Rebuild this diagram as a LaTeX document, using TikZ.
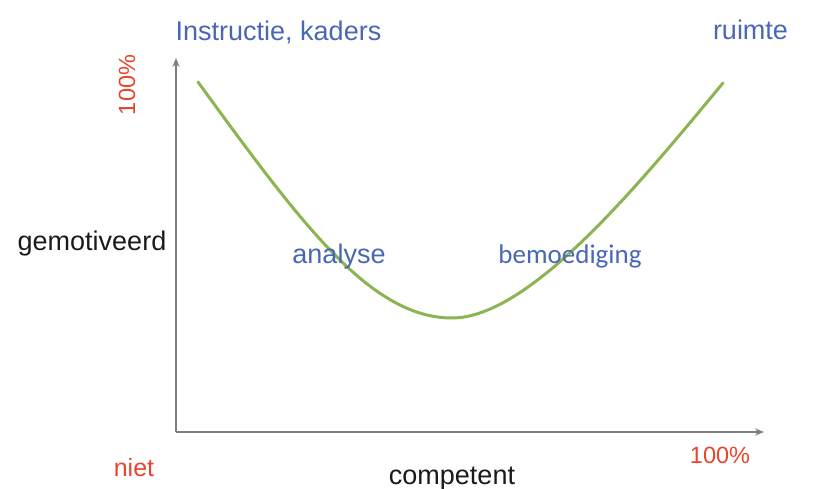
\documentclass[tikz,border=0pt]{standalone}
\usepackage{fontspec}
\setmainfont{Liberation Sans}
\newfontfamily\calib{Carlito}
\usetikzlibrary{arrows.meta}
\definecolor{lblblue}{HTML}{4A67B5}
\definecolor{lblred}{HTML}{E8442E}
\definecolor{curvegreen}{HTML}{8CB453}
\definecolor{axisgray}{HTML}{7F7F7F}
\definecolor{txtblack}{HTML}{1A1A1A}
\tikzset{
  bluelbl/.style={text=lblblue, font=\fontsize{27}{30}\selectfont, inner sep=0pt, anchor=base},
  redlbl/.style={text=lblred, font=\fontsize{23.5}{26}\selectfont, inner sep=0pt, anchor=base},
  blacklbl/.style={text=txtblack, font=\fontsize{27}{30}\selectfont, inner sep=0pt, anchor=base},
  axisline/.style={draw=axisgray, line width=1.6pt, -{Stealth[length=9pt,width=7pt]}},
  curveline/.style={draw=curvegreen, line width=3pt, line cap=round}
}
\begin{document}
\begin{tikzpicture}[x=1pt,y=-1pt]
\useasboundingbox (0,0) rectangle (814,489);
% axes
\coordinate (O) at (176,432);
\coordinate (Ytop) at (176,58);
\coordinate (Xend) at (764,432);
\draw[axisline] (O) -- (Ytop);
\draw[axisline] (O) -- (Xend);
% curve
\coordinate (cstart) at (198,82);
\coordinate (cmin) at (452,318);
\coordinate (cend) at (723,83);
\draw[curveline] (cstart) .. controls (300,222) and (370,318) .. (cmin)
                         .. controls (530,318) and (640,183) .. (cend);
% labels
\node[bluelbl] (instr) at (278.5,41) {Instructie, kaders};
\node[bluelbl] (ruimte) at (750.5,40) {ruimte};
\node[redlbl, rotate=90] (ytop) at (135,85) {100\%};
\node[blacklbl] (gemot) at (92,251) {gemotiveerd};
\node[bluelbl] (analyse) at (339,263) {analyse};
\node[bluelbl, font=\calib\fontsize{27}{30}\selectfont] (bemoed) at (570,263) {bemoediging};
\node[redlbl, font=\fontsize{25}{28}\selectfont] (niet) at (134,476) {niet};
\node[blacklbl] (comp) at (452,484) {competent};
\node[redlbl] (xend) at (720,463) {100\%};
\end{tikzpicture}
\end{document}
